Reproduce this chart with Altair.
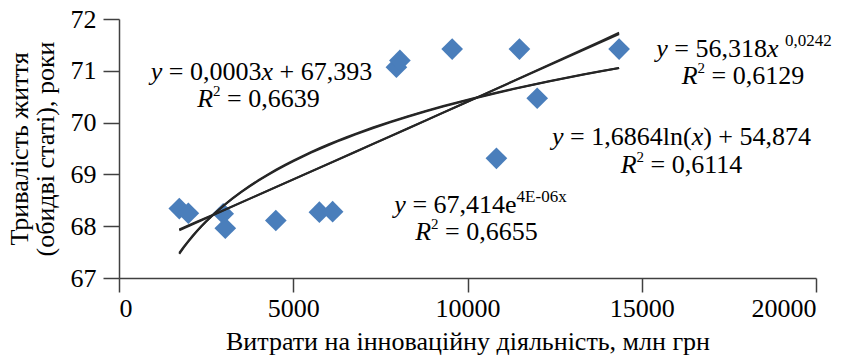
import altair as alt
import pandas as pd

# Data
spend = [1730, 1990, 2990, 3050, 4500, 5750, 6130, 7960, 8060, 9560, 10830, 11490, 12000, 14350]
life = [68.34, 68.25, 68.24, 67.96, 68.11, 68.27, 68.28, 71.07, 71.2, 71.42, 69.31, 71.42, 70.47, 71.42]

methods = ["linear", "exp", "log", "pow"]

# Annotation lines: runs of (text, style) where style: n=normal, i=italic, s=superscript
ann_runs = [
    [("y", "i"), (" = 0,0003", "n"), ("x", "i"), (" + 67,393", "n")],
    [("R", "i"), ("2", "s"), (" = 0,6639", "n")],
    [("y", "i"), (" = 56,318", "n"), ("x", "i"), (" ", "n"), ("0,0242", "s")],
    [("R", "i"), ("2", "s"), (" = 0,6129", "n")],
    [("y", "i"), (" = 1,6864ln(", "n"), ("x", "i"), (") + 54,874", "n")],
    [("R", "i"), ("2", "s"), (" = 0,6114", "n")],
    [("y", "i"), (" = 67,414e", "n"), ("4E-06x", "s")],
    [("R", "i"), ("2", "s"), (" = 0,6655", "n")],
]
ann_cx = [4089, 4003, 17934, 17905, 16141, 16155, 10373, 10258]
ann_cy = [70.977, 70.456, 71.421, 70.900, 69.722, 69.181, 68.409, 67.888]

FONT = "Liberation Serif"
FS = 26
SUP_FS = {"2": 15}
SUP_DEFAULT = 17

# Times / Liberation Serif advance widths (em)
REG = {",": .25, " ": .25, "=": .564, "+": .564, "(": .333, ")": .333, "l": .278, "n": .5,
       "e": .444, "E": .611, "-": .333, "x": .5, "y": .5, "R": .667}
ITA = {"x": .444, "y": .444, "R": .611}


def run_size(text, style):
    return SUP_FS.get(text, SUP_DEFAULT) if style == "s" else FS


def run_width(text, style):
    table = ITA if style == "i" else REG
    return sum(table.get(c, .5) for c in text) * run_size(text, style)


PX2X = 20000 / 697
rows = []
for runs, cx, cy in zip(ann_runs, ann_cx, ann_cy):
    total = sum(run_width(t, s) for t, s in runs)
    off = -total / 2
    for t, s in runs:
        body = t.lstrip(" ")
        lead = run_width(t[: len(t) - len(body)], "n") if s != "s" else 0
        if body.strip():
            rows.append({"x": cx + (off + lead) * PX2X, "y": cy, "t": body, "s": s,
                         "fs": run_size(t, s)})
        off += run_width(t, s)
ann_df = pd.DataFrame(rows)

df = pd.DataFrame({"x": spend, "y": life})

xs = alt.Scale(domain=[0, 20000], nice=False)
ys = alt.Scale(domain=[67, 72], nice=False, zero=False)

base = alt.Chart(df)

points = base.mark_point(shape="diamond", filled=True, size=470, color="#4A7EBB", opacity=1).encode(
    x=alt.X("x:Q", scale=xs,
            axis=alt.Axis(values=[0, 5000, 10000, 15000, 20000], format="d", grid=False,
                          title="Витрати на інноваційну діяльність, млн грн",
                          tickSize=14, labelPadding=3, titlePadding=7)),
    y=alt.Y("y:Q", scale=ys,
            axis=alt.Axis(values=[67, 68, 69, 70, 71, 72], grid=False,
                          title=["Тривалість життя", "(обидві статі), роки"],
                          tickSize=16, labelPadding=7, titlePadding=12)),
)

lines = []
for m in methods:
    lines.append(
        base.transform_regression("x", "y", method=m)
        .mark_line(color="#262626", strokeWidth=2)
        .encode(x=alt.X("x:Q", scale=xs), y=alt.Y("y:Q", scale=ys))
    )

ann_layers = []
for style, italic, dy in [("n", False, 0), ("i", True, 0), ("s", False, -8)]:
    sub = ann_df[ann_df["s"] == style]
    props = dict(font=FONT, color="black", align="left", baseline="middle", dy=dy)
    if italic:
        props["fontStyle"] = "italic"
    ann_layers.append(
        alt.Chart(sub).mark_text(**props).encode(
            x=alt.X("x:Q", scale=xs), y=alt.Y("y:Q", scale=ys), text="t:N",
            size=alt.Size("fs:Q", scale=None, legend=None))
    )

chart = alt.layer(points, *lines, *ann_layers).properties(
    width=697, height=259,
    autosize=alt.AutoSizeParams(type="none"),
    padding={"left": 119, "top": 19, "right": 37, "bottom": 82},
    background="white",
).configure_view(stroke=None).configure_axis(
    labelFont=FONT, labelFontSize=FS, labelColor="black",
    titleFont=FONT, titleFontSize=FS, titleColor="black", titleFontWeight="normal",
    domainColor="#404040", tickColor="#404040", domainWidth=1.5, tickWidth=1.5,
    titleLineHeight=26,
)

chart.save("out.html", embed_options={"renderer": "svg", "actions": False})
